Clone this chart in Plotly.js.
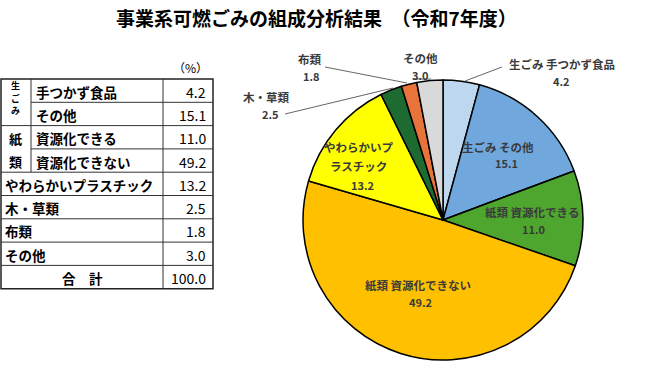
<!DOCTYPE html>
<html>
<head>
<meta charset="utf-8">
<script src="https://cdn.plot.ly/plotly-3.0.1.min.js"></script>
<style>html,body{margin:0;padding:0;background:#fff;}#chart{width:660px;height:382px;}</style>
</head>
<body>
<div id="chart"></div>
<script>
// ---- data ----
const sliceNames = ["生ごみ 手つかず食品", "生ごみ その他", "紙類 資源化できる", "紙類 資源化できない", "やわらかいプラスチック", "木・草類", "布類", "その他"];
const sliceLabelLines = [["生ごみ 手つかず食品"], ["生ごみ その他"], ["紙類 資源化できる"], ["紙類 資源化できない"], ["やわらかいプ", "ラスチック"], ["木・草類"], ["布類"], ["その他"]];
const sliceValues = [4.2, 15.1, 11.0, 49.2, 13.2, 2.5, 1.8, 3.0];
const sliceColors = ["#BDD7EE", "#70A8DE", "#4EA62F", "#FFC000", "#FFFF00", "#1E6B32", "#E8743B", "#D9D9D9"];

const tableRowLabels = ["手つかず食品", "その他", "資源化できる", "資源化できない", "やわらかいプラスチック", "木・草類", "布類", "その他"];
const tableGroupLabels = ["生ごみ", "紙類"];
const tableValues = [4.2, 15.1, 11.0, 49.2, 13.2, 2.5, 1.8, 3.0];
const totalLabel = "合　計";
const totalValue = 100.0;
const unitLabel = "（%）";
const chartTitle = "事業系可燃ごみの組成分析結果　（令和7年度）";

// ---- layout helpers ----
const W = 660, H = 382;
const px = x => x / W;
const py = y => 1 - y / H;
const FONT = "Noto Sans CJK JP, Noto Sans, sans-serif";

const annotations = [];
const shapes = [];

// title
annotations.push({text: "<b>" + chartTitle + "</b>", x: px(316), y: py(18), xref: "paper", yref: "paper",
  showarrow: false, xanchor: "center", yanchor: "middle", font: {family: FONT, size: 19, color: "#000"}});

// ---- table ----
const tTop = 79, rowH = 23.3, tLeft = 1, tSub = 31, tVal = 163, tRight = 213;
const rowY = i => tTop + i * rowH;
const tBottom = rowY(9);
function hline(x0, x1, y, w, c) { shapes.push({type: "line", xref: "paper", yref: "paper", x0: px(x0), x1: px(x1), y0: py(y), y1: py(y), line: {color: c || "#333", width: w || 1}}); }
function vline(x, y0, y1, w, c) { shapes.push({type: "line", xref: "paper", yref: "paper", x0: px(x), x1: px(x), y0: py(y0), y1: py(y1), line: {color: c || "#333", width: w || 1}}); }

shapes.push({type: "rect", xref: "paper", yref: "paper", x0: px(tLeft), x1: px(tRight), y0: py(tBottom), y1: py(tTop), line: {color: "#222", width: 1.5}});
for (let i = 1; i < 9; i++) {
  const inner = (i === 1 || i === 3);
  hline(inner ? tSub : tLeft, tRight, rowY(i), 1, "#333");
}
vline(tSub, tTop, rowY(4), 1, "#333");
vline(tVal, tTop, tBottom, 1, "#333");

function tText(t, x, y, anchor, size, bold) {
  annotations.push({text: bold ? "<b>" + t + "</b>" : t, x: px(x), y: py(y), xref: "paper", yref: "paper",
    showarrow: false, xanchor: anchor, yanchor: "middle", font: {family: FONT, size: size, color: "#000"}});
}
tText(unitLabel, 190, 67, "center", 12, false);
const g1 = tableGroupLabels[0].split("");
g1.forEach((c, k) => tText(c, 15, rowY(0) + 6.5 + k * 12.5, "center", 9, true));
const g2 = tableGroupLabels[1].split("");
g2.forEach((c, k) => tText(c, 15, rowY(2 + k) + rowH / 2 + 1, "center", 13, true));
tableRowLabels.forEach((lab, i) => {
  const x = i < 4 ? 34 : 3;
  tText(lab, x, rowY(i) + rowH / 2 + 1, "left", 13.5, true);
  tText(tableValues[i].toFixed(1), 208, rowY(i) + rowH / 2 + 1, "right", 14, false);
});
tText(totalLabel, 82, rowY(8) + rowH / 2 + 1, "center", 13.5, true);
tText(totalValue.toFixed(1), 208, rowY(8) + rowH / 2 + 1, "right", 14, false);

// ---- pie labels ----
// [x of name, y of first name line, x of value, y of value]
const labelPos = [
  [562, 64, 561, 81],
  [498, 147, 506, 163],
  [532, 212, 533, 229],
  [418, 285, 420, 302],
  [358, 147, 362, 185],
  [266, 97, 270, 114],
  [310, 59, 311, 76],
  [420, 58, 420, 75]
];
const LCOL = "#3a3a3a";
sliceLabelLines.forEach((lines, i) => {
  const p = labelPos[i];
  lines.forEach((t, k) => {
    annotations.push({text: "<b>" + t + "</b>", x: px(p[0]), y: py(p[1] + k * 19), xref: "paper", yref: "paper", showarrow: false,
      xanchor: "center", yanchor: "middle", font: {family: FONT, size: 11.5, color: LCOL}});
  });
  annotations.push({text: "<b>" + sliceValues[i].toFixed(1) + "</b>", x: px(p[2]), y: py(p[3]), xref: "paper", yref: "paper", showarrow: false,
    xanchor: "center", yanchor: "middle", font: {family: FONT, size: 11, color: LCOL}});
});
const leaders = [[465, 81, 502, 67], [325, 67, 407, 83], [285, 114, 393, 88], [413, 79, 431, 79]];
leaders.forEach(l => shapes.push({type: "line", xref: "paper", yref: "paper", x0: px(l[0]), y0: py(l[1]), x1: px(l[2]), y1: py(l[3]), line: {color: "#666", width: 1}}));

const cx = 443, cy = 220, r = 140;
const data = [{
  type: "pie",
  labels: sliceNames,
  values: sliceValues,
  sort: false,
  direction: "clockwise",
  rotation: 0,
  textinfo: "none",
  hoverinfo: "label+value",
  marker: {colors: sliceColors, line: {color: "#000", width: 1.5}},
  domain: {x: [px(cx - r), px(cx + r)], y: [py(cy + r), py(cy - r)]},
  showlegend: false
}];

const layout = {
  width: W, height: H,
  margin: {l: 0, r: 0, t: 0, b: 0},
  paper_bgcolor: "#fff",
  showlegend: false,
  annotations: annotations,
  shapes: shapes,
  font: {family: FONT}
};
Plotly.newPlot("chart", data, layout, {displayModeBar: false, staticPlot: true});
</script>
</body>
</html>
